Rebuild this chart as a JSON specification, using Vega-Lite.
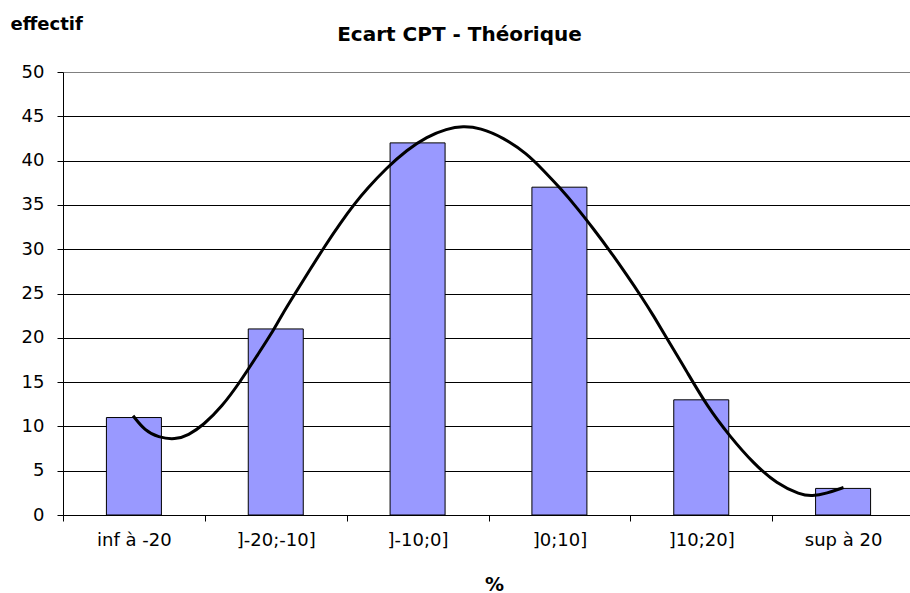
{
  "$schema": "https://vega.github.io/schema/vega-lite/v6.json",
  "width": 847,
  "height": 443,
  "autosize": {"type": "none"},
  "padding": {"left": 63, "top": 72, "right": 0, "bottom": 78},
  "background": "white",
  "title": {
    "text": "Ecart CPT - Théorique",
    "font": "DejaVu Sans",
    "fontSize": 20,
    "fontWeight": "bold",
    "color": "black",
    "anchor": "middle",
    "frame": "group",
    "baseline": "alphabetic",
    "dx": -27,
    "offset": -46
  },
  "config": {
    "view": {"stroke": null},
    "axis": {
      "labelFont": "DejaVu Sans",
      "labelFontSize": 18,
      "labelColor": "black",
      "titleFont": "DejaVu Sans",
      "titleColor": "black",
      "domainColor": "black",
      "tickColor": "black",
      "domainWidth": 1,
      "tickWidth": 1
    }
  },
  "layer": [
    {
      "data": {
        "values": [
          {"classe": "inf à -20", "effectif": 11},
          {"classe": "]-20;-10]", "effectif": 21},
          {"classe": "]-10;0]", "effectif": 42},
          {"classe": "]0;10]", "effectif": 37},
          {"classe": "]10;20]", "effectif": 13},
          {"classe": "sup à 20", "effectif": 3}
        ]
      },
      "mark": {"type": "bar", "color": "#9999FF", "stroke": "black", "strokeWidth": 1, "width": 55},
      "encoding": {
        "x": {
          "field": "classe",
          "type": "nominal",
          "sort": null,
          "scale": {"range": [0, 851], "paddingInner": 0, "paddingOuter": 0},
          "axis": {
            "tickBand": "extent",
            "labelAngle": 0,
            "labelPadding": 10,
            "tickSize": 6,
            "grid": false,
            "title": "%",
            "titleFontSize": 19,
            "titleFontWeight": "bold",
            "titleX": 431,
            "titleY": 75,
            "titleBaseline": "alphabetic",
            "titleAlign": "center"
          }
        },
        "y": {
          "field": "effectif",
          "type": "quantitative",
          "scale": {"domain": [0, 50], "nice": false},
          "axis": {
            "values": [0, 5, 10, 15, 20, 25, 30, 35, 40, 45, 50],
            "grid": true,
            "gridColor": {"condition": {"test": "datum.value === 50", "value": "#808080"}, "value": "black"},
            "gridWidth": 1,
            "tickSize": 6,
            "labelPadding": 13,
            "title": "effectif",
            "titleAngle": 0,
            "titleAlign": "left",
            "titleBaseline": "alphabetic",
            "titleX": -53,
            "titleY": -43,
            "titleFontSize": 18,
            "titleFontWeight": "bold"
          }
        }
      }
    },
    {
      "data": {
        "values": [
          {"t": 0.494, "v": 11.2},
          {"t": 0.578, "v": 9.5},
          {"t": 0.672, "v": 8.76},
          {"t": 0.79, "v": 8.5},
          {"t": 0.884, "v": 9.0},
          {"t": 0.99, "v": 10.15},
          {"t": 1.119, "v": 12.2},
          {"t": 1.248, "v": 15.0},
          {"t": 1.377, "v": 18.2},
          {"t": 1.471, "v": 20.5},
          {"t": 1.54, "v": 22.5},
          {"t": 1.636, "v": 25.0},
          {"t": 1.742, "v": 27.7},
          {"t": 1.848, "v": 30.4},
          {"t": 1.953, "v": 32.9},
          {"t": 2.059, "v": 35.2},
          {"t": 2.142, "v": 36.8},
          {"t": 2.283, "v": 39.2},
          {"t": 2.424, "v": 41.2},
          {"t": 2.565, "v": 42.7},
          {"t": 2.706, "v": 43.6},
          {"t": 2.82, "v": 43.9},
          {"t": 2.94, "v": 43.7},
          {"t": 3.105, "v": 42.6},
          {"t": 3.27, "v": 40.8},
          {"t": 3.387, "v": 38.9},
          {"t": 3.505, "v": 36.9},
          {"t": 3.623, "v": 34.7},
          {"t": 3.74, "v": 32.3},
          {"t": 3.857, "v": 29.8},
          {"t": 3.975, "v": 27.1},
          {"t": 4.08, "v": 24.6},
          {"t": 4.163, "v": 22.5},
          {"t": 4.233, "v": 20.6},
          {"t": 4.398, "v": 16.2},
          {"t": 4.54, "v": 12.3},
          {"t": 4.704, "v": 8.83},
          {"t": 4.868, "v": 5.83},
          {"t": 5.033, "v": 3.5},
          {"t": 5.197, "v": 2.3},
          {"t": 5.28, "v": 2.1},
          {"t": 5.386, "v": 2.45},
          {"t": 5.503, "v": 3.1}
        ]
      },
      "mark": {"type": "line", "color": "black", "strokeWidth": 3, "interpolate": "basis"},
      "encoding": {
        "x": {"field": "t", "type": "quantitative", "scale": {"domain": [0, 6], "range": [0, 851]}, "axis": null},
        "y": {"field": "v", "type": "quantitative"}
      }
    }
  ],
  "resolve": {"scale": {"x": "independent"}}
}
